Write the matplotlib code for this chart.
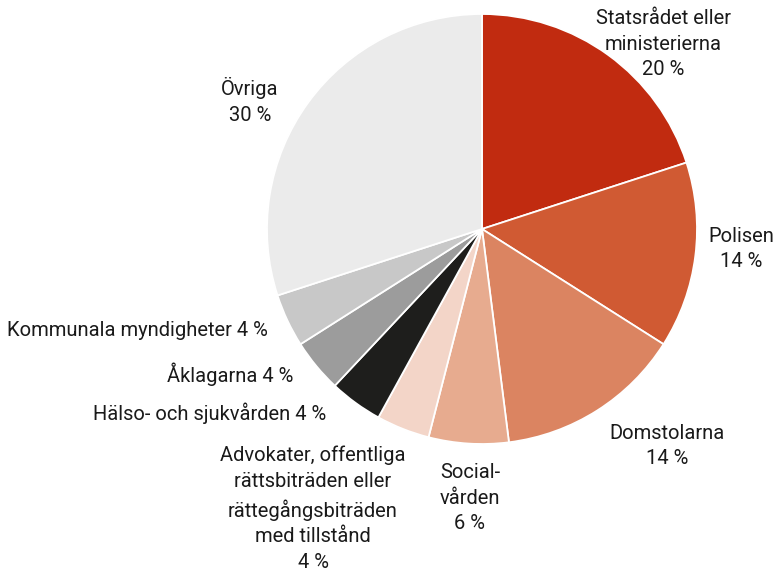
import matplotlib.pyplot as plt
from matplotlib import font_manager

labels = ["Statsrådet eller\nministerierna\n20 %", "Polisen\n14 %", "Domstolarna\n14 %",
          "Social-\nvården\n6 %",
          "Advokater, offentliga\nrättsbiträden eller\nrättegångsbiträden\nmed tillstånd\n4 %",
          "Hälso- och sjukvården 4 %", "Åklagarna 4 %", "Kommunala myndigheter 4 %",
          "Övriga\n30 %"]
values = [20, 14, 14, 6, 4, 4, 4, 4, 30]
colors = ["#C12B10", "#D05A33", "#DB8461", "#E7AB8F", "#F3D5C8",
          "#1E1E1C", "#9C9C9C", "#C8C8C8", "#EBEBEB"]

names = {f.name for f in font_manager.fontManager.ttflist}
fam = "Liberation Sans Narrow" if "Liberation Sans Narrow" in names else "Roboto"
plt.rcParams["font.family"] = [fam, "DejaVu Sans"]

fig = plt.figure(figsize=(7.8, 5.73), dpi=100)
ax = fig.add_axes([0, 0, 1, 1])

# pie drawn with y pointing down, so go counterclock in data = clockwise on screen
ax.pie(values, colors=colors, startangle=-90, counterclock=True,
       center=(482, 229), radius=215, frame=True,
       wedgeprops=dict(edgecolor="white", linewidth=1.3))
ax.set_xlim(0, 780)
ax.set_ylim(573, 0)
ax.set_aspect("equal")
ax.axis("off")

txt = dict(fontsize=14.5, color="#1a1a1a", linespacing=1.45)
pos = [(663, 44, "center"), (741, 249, "center"), (667, 446, "center"),
       (470, 498, "center"), (313, 509, "center"),
       (326, 413, "right"), (293, 374, "right"), (268, 330, "right"),
       (250, 101, "center")]
for lab, (x, y, ha) in zip(labels, pos):
    ax.text(x, y, lab, ha=ha, va="center", multialignment="center", **txt)

fig.savefig("out.png", dpi=100)
